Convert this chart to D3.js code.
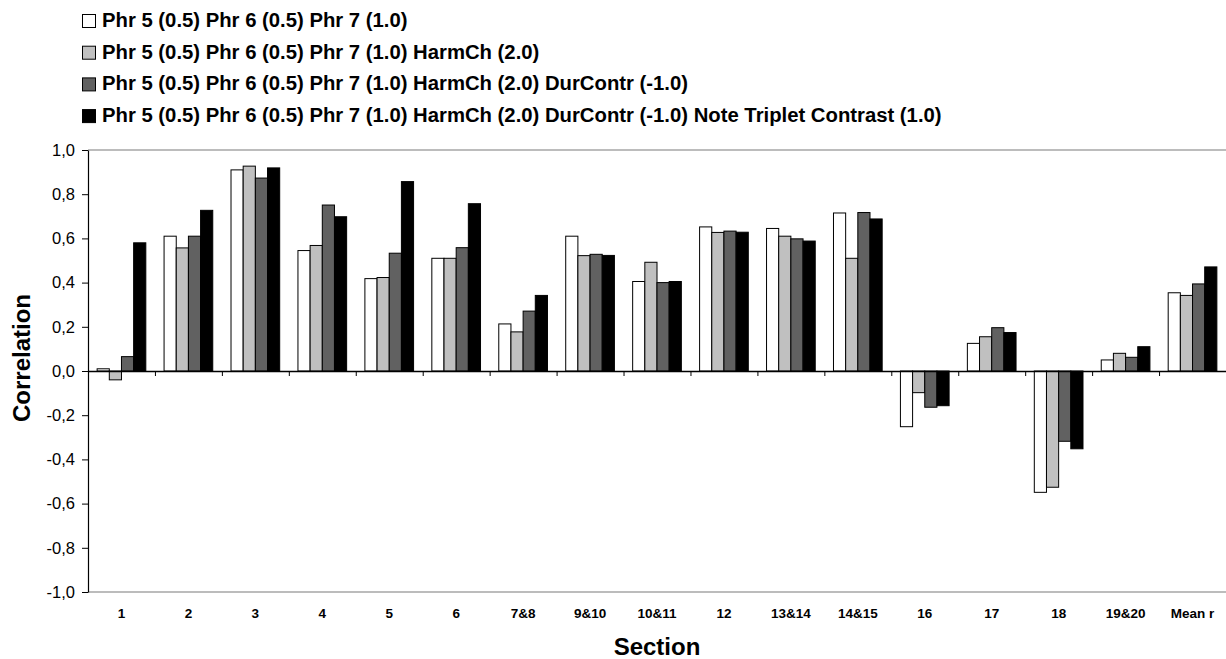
<!DOCTYPE html>
<html>
<head>
<meta charset="utf-8">
<script src="https://cdn.jsdelivr.net/npm/d3@7"></script>
<style>
  html, body { margin: 0; padding: 0; background: #fff; }
  svg { display: block; font-family: "Liberation Sans", Arial, sans-serif; }
</style>
</head>
<body>
<svg id="chart" width="1226" height="659"></svg>
<script>
// sections on the x axis
const sections = ['1', '2', '3', '4', '5', '6', '7&8', '9&10', '10&11', '12', '13&14', '14&15', '16', '17', '18', '19&20', 'Mean r'];

const seriesNames = [
    'Phr 5 (0.5) Phr 6 (0.5) Phr 7 (1.0)',
    'Phr 5 (0.5) Phr 6 (0.5) Phr 7 (1.0) HarmCh (2.0)',
    'Phr 5 (0.5) Phr 6 (0.5) Phr 7 (1.0) HarmCh (2.0) DurContr (-1.0)',
    'Phr 5 (0.5) Phr 6 (0.5) Phr 7 (1.0) HarmCh (2.0) DurContr (-1.0) Note Triplet Contrast (1.0)'
];
const seriesColors = ['#ffffff', '#c0c0c0', '#616161', '#000000'];

// correlations, one array per series
const phr = [0.01, 0.61, 0.91, 0.545, 0.418, 0.51, 0.213, 0.61, 0.405, 0.652, 0.645, 0.715, -0.252, 0.125, -0.549, 0.05, 0.354];
const phrHarm = [-0.04, 0.557, 0.927, 0.568, 0.423, 0.51, 0.177, 0.522, 0.492, 0.627, 0.61, 0.51, -0.098, 0.155, -0.526, 0.08, 0.342];
const phrHarmDur = [0.065, 0.61, 0.873, 0.751, 0.533, 0.558, 0.271, 0.528, 0.4, 0.633, 0.598, 0.717, -0.164, 0.196, -0.318, 0.062, 0.394];
const phrHarmDurTriplet = [0.58, 0.727, 0.919, 0.698, 0.857, 0.757, 0.342, 0.523, 0.405, 0.628, 0.588, 0.688, -0.157, 0.174, -0.352, 0.11, 0.471];

const yTicks = [-1, -0.8, -0.6, -0.4, -0.2, 0, 0.2, 0.4, 0.6, 0.8, 1];

const series = [phr, phrHarm, phrHarmDur, phrHarmDurTriplet];

const svg = d3.select('#chart');
const plot = { left: 88, right: 1226, top: 150, bottom: 592 };

const x = d3.scaleBand().domain(sections).range([plot.left, plot.right]).padding(0);
// Excel-like gap width of 150% -> 0.75 bar width on each side
const inner = d3.scaleBand().domain(d3.range(series.length))
    .range([0, x.bandwidth()]).paddingOuter(0.75).paddingInner(0);
const y = d3.scaleLinear().domain([-1, 1]).range([plot.bottom, plot.top]);

// plot border lines (top and bottom, grey like the original)
svg.append('line').attr('x1', plot.left).attr('x2', plot.right).attr('y1', plot.top).attr('y2', plot.top)
    .attr('stroke', '#a6a6a6').attr('stroke-width', 1.5);
svg.append('line').attr('x1', plot.left).attr('x2', plot.right).attr('y1', plot.bottom).attr('y2', plot.bottom)
    .attr('stroke', '#a6a6a6').attr('stroke-width', 1.5);

// bars
const rows = sections.map((s, i) => ({ s, vals: series.map(a => a[i]) }));
const groups = svg.append('g').selectAll('g').data(rows).join('g')
    .attr('transform', d => `translate(${x(d.s)},0)`);
groups.selectAll('rect').data(d => d.vals.map((v, k) => ({ v, k }))).join('rect')
    .attr('x', d => inner(d.k))
    .attr('width', inner.bandwidth())
    .attr('y', d => y(Math.max(0, d.v)))
    .attr('height', d => Math.abs(y(d.v) - y(0)))
    .attr('fill', d => seriesColors[d.k])
    .attr('stroke', '#000')
    .attr('stroke-width', 1);

// zero line with category boundary ticks
const bounds = d3.scaleLinear().domain([0, sections.length]).range([plot.left, plot.right]);
const zeroAxis = svg.append('g').attr('transform', `translate(0,${y(0)})`)
    .call(d3.axisBottom(bounds).tickValues(d3.range(1, sections.length)).tickFormat('').tickSize(5).tickSizeOuter(0));
zeroAxis.select('.domain').attr('stroke', '#000').attr('stroke-width', 1.5);
zeroAxis.selectAll('.tick line').attr('stroke', '#000');

// category labels under the plot
const xAxis = svg.append('g').attr('transform', `translate(0,${plot.bottom})`)
    .call(d3.axisBottom(x).tickSize(0).tickPadding(16));
xAxis.select('.domain').remove();
xAxis.selectAll('text').attr('font-size', '13.5px').attr('font-weight', 'bold').attr('fill', '#000')
    .attr('font-family', '"Liberation Sans", Arial, sans-serif');

// y axis
const yAxis = svg.append('g').attr('transform', `translate(${plot.left},0)`)
    .call(d3.axisLeft(y).tickValues(yTicks).tickSize(6).tickSizeOuter(0).tickPadding(7)
        .tickFormat(v => (Math.abs(v) < 1e-9 ? 0 : v).toFixed(1).replace('.', ',')));
yAxis.select('.domain').attr('stroke', '#000').attr('stroke-width', 1.2);
yAxis.selectAll('.tick line').attr('stroke', '#000');
yAxis.selectAll('text').attr('font-size', '16.5px').attr('fill', '#000')
    .attr('font-family', '"Liberation Sans", Arial, sans-serif');

// axis titles
svg.append('text').attr('transform', 'translate(21,358) rotate(-90)')
    .attr('text-anchor', 'middle').attr('dominant-baseline', 'central')
    .attr('font-size', '24px').attr('font-weight', 'bold').text('Correlation');
svg.append('text').attr('x', (plot.left + plot.right) / 2).attr('y', 655)
    .attr('text-anchor', 'middle')
    .attr('font-size', '24px').attr('font-weight', 'bold').text('Section');

// legend
const legend = svg.append('g').selectAll('g').data(seriesNames).join('g')
    .attr('transform', (d, i) => `translate(82,${27 + i * 31.7})`);
legend.append('rect').attr('x', 0.5).attr('y', -12.5).attr('width', 13).attr('height', 13)
    .attr('fill', (d, i) => seriesColors[i]).attr('stroke', '#000').attr('stroke-width', 1);
legend.append('text').attr('x', 20).attr('y', 0)
    .attr('font-size', '20.3px').attr('font-weight', 'bold').text(d => d);
</script>
</body>
</html>
